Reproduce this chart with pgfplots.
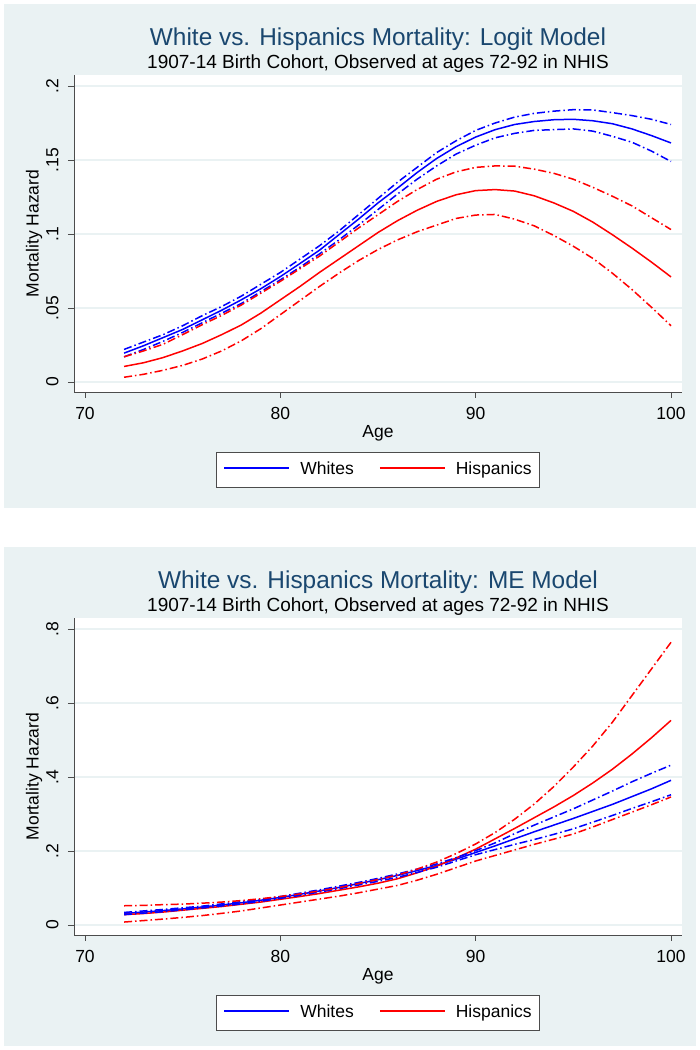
\documentclass[border=0pt]{standalone}
\usepackage{pgfplots}
\pgfplotsset{compat=1.18}
\usepackage{pgfplotstable}
\usepackage{fontspec}
\setmainfont{Liberation Sans}
\definecolor{statabg}{RGB}{234,242,243}
\definecolor{statagrid}{RGB}{234,242,243}
\definecolor{statatitle}{RGB}{26,71,111}

% Logit model: age, whites mean/lower/upper, hispanics mean/lower/upper
\pgfplotstableread{
age wm wlo whi hm hlo hhi
72 0.0195 0.0170 0.0220 0.0105 0.0032 0.0170
73 0.0245 0.0220 0.0270 0.0130 0.0052 0.0210
74 0.0300 0.0275 0.0320 0.0165 0.0079 0.0255
75 0.0355 0.0335 0.0380 0.0210 0.0112 0.0320
76 0.0420 0.0400 0.0448 0.0260 0.0155 0.0387
77 0.0485 0.0465 0.0510 0.0320 0.0210 0.0450
78 0.0555 0.0530 0.0580 0.0385 0.0278 0.0520
79 0.0630 0.0610 0.0660 0.0465 0.0360 0.0600
80 0.0712 0.0690 0.0740 0.0555 0.0455 0.0680
81 0.0800 0.0775 0.0830 0.0645 0.0550 0.0765
82 0.0890 0.0865 0.0920 0.0740 0.0645 0.0850
83 0.0995 0.0960 0.1020 0.0830 0.0735 0.0945
84 0.1100 0.1060 0.1130 0.0920 0.0820 0.1040
85 0.1210 0.1165 0.1240 0.1010 0.0895 0.1130
86 0.1310 0.1270 0.1350 0.1090 0.0960 0.1220
87 0.1415 0.1370 0.1450 0.1160 0.1015 0.1300
88 0.1510 0.1460 0.1550 0.1220 0.1060 0.1370
89 0.1590 0.1540 0.1630 0.1265 0.1105 0.1420
90 0.1655 0.1600 0.1700 0.1293 0.1128 0.1450
91 0.1705 0.1650 0.1750 0.1300 0.1132 0.1460
92 0.1740 0.1680 0.1790 0.1290 0.1100 0.1458
93 0.1760 0.1700 0.1815 0.1258 0.1055 0.1438
94 0.1772 0.1705 0.1830 0.1210 0.0990 0.1410
95 0.1775 0.1710 0.1840 0.1153 0.0917 0.1370
96 0.1765 0.1695 0.1838 0.1080 0.0835 0.1315
97 0.1745 0.1660 0.1820 0.0995 0.0735 0.1255
98 0.1710 0.1620 0.1800 0.0905 0.0625 0.1190
99 0.1665 0.1560 0.1775 0.0810 0.0505 0.1110
100 0.1615 0.1490 0.1740 0.0710 0.0380 0.1030
}\logitdata

% ME model
\pgfplotstableread{
age wm wlo whi hm hlo hhi
72 0.0310 0.0280 0.0340 0.0280 0.0080 0.0520
73 0.0350 0.0320 0.0380 0.0310 0.0120 0.0530
74 0.0390 0.0360 0.0420 0.0350 0.0160 0.0550
75 0.0435 0.0410 0.0465 0.0400 0.0205 0.0565
76 0.0485 0.0460 0.0510 0.0450 0.0255 0.0590
77 0.0540 0.0515 0.0570 0.0500 0.0315 0.0620
78 0.0600 0.0570 0.0630 0.0560 0.0380 0.0660
79 0.0670 0.0640 0.0695 0.0620 0.0460 0.0710
80 0.0745 0.0720 0.0770 0.0695 0.0540 0.0770
81 0.0830 0.0800 0.0860 0.0770 0.0620 0.0840
82 0.0920 0.0890 0.0950 0.0850 0.0700 0.0920
83 0.1015 0.0980 0.1050 0.0940 0.0780 0.1010
84 0.1120 0.1080 0.1150 0.1030 0.0870 0.1120
85 0.1225 0.1180 0.1260 0.1130 0.0970 0.1230
86 0.1340 0.1290 0.1380 0.1250 0.1070 0.1350
87 0.1470 0.1420 0.1510 0.1410 0.1210 0.1510
88 0.1610 0.1560 0.1650 0.1590 0.1370 0.1700
89 0.1780 0.1730 0.1820 0.1810 0.1550 0.1930
90 0.1960 0.1900 0.2010 0.2050 0.1730 0.2190
91 0.2140 0.2040 0.2220 0.2330 0.1880 0.2500
92 0.2330 0.2180 0.2470 0.2610 0.2030 0.2860
93 0.2520 0.2310 0.2700 0.2900 0.2180 0.3270
94 0.2700 0.2450 0.2920 0.3190 0.2320 0.3740
95 0.2880 0.2600 0.3140 0.3500 0.2460 0.4270
96 0.3070 0.2780 0.3380 0.3840 0.2650 0.4840
97 0.3260 0.2960 0.3620 0.4210 0.2850 0.5480
98 0.3470 0.3150 0.3870 0.4620 0.3050 0.6200
99 0.3680 0.3330 0.4100 0.5060 0.3250 0.6920
100 0.3910 0.3520 0.4320 0.5530 0.3460 0.7640
}\medata

\tikzset{
  wline/.style={blue, line width=1.5pt},
  hline/.style={red, line width=1.5pt},
  wci/.style={blue, line width=1.5pt, dash pattern=on 8pt off 3pt on 1.5pt off 3pt},
  hci/.style={red, line width=1.5pt, dash pattern=on 8pt off 3pt on 1.5pt off 3pt},
  legbox/.style={draw=black!70, line width=0.8pt, fill=white, anchor=north,
    inner xsep=8pt, inner ysep=9.5pt, font=\fontsize{17.5}{20}\selectfont},
}

\newcommand{\legkey}[2]{{\color{#1}\rule[5.6pt]{65pt}{1.6pt}}\hspace{11pt}#2}
\newcommand{\legtext}{\legkey{blue}{Whites}\hspace{26pt}\legkey{red}{Hispanics}}

\pgfplotsset{
  statapanel/.style={
    scale only axis, width=608pt, height=317pt,
    xmin=69.437, xmax=100.563,
    axis lines*=left,
    axis background/.style={fill=white},
    axis line style={black!70, line width=0.8pt},
    tick style={black!70, line width=0.8pt},
    tick align=outside, major tick length=6pt,
    xtick={70,80,90,100}, xticklabels={70,80,90,100},
    ymajorgrids, major grid style={statagrid, line width=1.5pt},
    tick label style={font=\fontsize{17.5}{20}\selectfont},
    xticklabel style={yshift=-6pt},
    yticklabel style={rotate=90, anchor=south},
    yticklabel shift=6pt,
    every axis x label/.style={at={(axis description cs:0.5,0)}, yshift=-41pt, anchor=center, font=\fontsize{17.5}{20}\selectfont},
    every axis y label/.style={at={(axis description cs:0,0.5)}, xshift=-40pt, rotate=90, anchor=center, font=\fontsize{17.5}{20}\selectfont},
    xlabel={Age}, ylabel={Mortality Hazard},
  }
}

\begin{document}
\begin{tikzpicture}
\fill[white] (0pt,0pt) rectangle (700pt,1050pt);
\fill[statabg] (4pt,542pt) rectangle (696pt,1046pt);
\fill[statabg] (4pt,4pt) rectangle (696pt,503pt);

\node[anchor=base, font=\fontsize{24.4}{28}\selectfont, text=statatitle] at (378pt,1004pt) {White vs. Hispanics Mortality: Logit Model};
\node[anchor=base, font=\fontsize{19}{22}\selectfont] at (378pt,981pt) {1907-14 Birth Cohort, Observed at ages 72-92 in NHIS};

\begin{axis}[statapanel, at={(74pt,658pt)}, anchor=south west,
  ymin=-0.00676, ymax=0.20743,
  ytick={0,0.05,0.1,0.15,0.2}, yticklabels={0,.05,.1,.15,.2}]
\addplot[wline] table[x=age,y=wm] {\logitdata};
\addplot[hline] table[x=age,y=hm] {\logitdata};
\addplot[wci] table[x=age,y=wlo] {\logitdata};
\addplot[wci] table[x=age,y=whi] {\logitdata};
\addplot[hci] table[x=age,y=hlo] {\logitdata};
\addplot[hci] table[x=age,y=hhi] {\logitdata};
\end{axis}
\node[legbox] at (378pt,598pt) {\legtext};

\node[anchor=base, font=\fontsize{24.4}{28}\selectfont, text=statatitle] at (378pt,461pt) {White vs. Hispanics Mortality: ME Model};
\node[anchor=base, font=\fontsize{19}{22}\selectfont] at (378pt,438pt) {1907-14 Birth Cohort, Observed at ages 72-92 in NHIS};

\begin{axis}[statapanel, at={(74pt,115pt)}, anchor=south west,
  ymin=-0.027, ymax=0.8297,
  ytick={0,0.2,0.4,0.6,0.8}, yticklabels={0,.2,.4,.6,.8}]
\addplot[wline] table[x=age,y=wm] {\medata};
\addplot[hline] table[x=age,y=hm] {\medata};
\addplot[wci] table[x=age,y=wlo] {\medata};
\addplot[wci] table[x=age,y=whi] {\medata};
\addplot[hci] table[x=age,y=hlo] {\medata};
\addplot[hci] table[x=age,y=hhi] {\medata};
\end{axis}
\node[legbox] at (378pt,55pt) {\legtext};
\end{tikzpicture}
\end{document}
